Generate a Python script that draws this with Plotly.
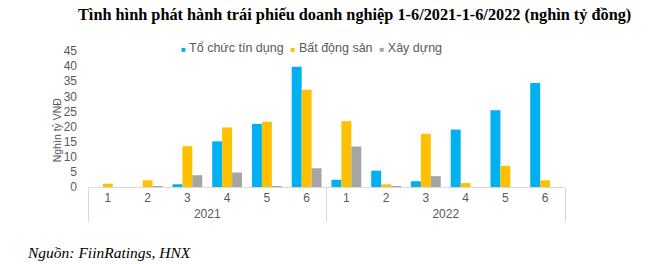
import plotly.graph_objects as go

years = ["2021"] * 6 + ["2022"] * 6
months = ["1", "2", "3", "4", "5", "6"] * 2
series_names = ["Tổ chức tín dụng", "Bất động sản", "Xây dựng"]
to_chuc_tin_dung = [0, 0, 0.9, 15.1, 20.9, 39.8, 2.4, 5.4, 1.9, 19.0, 25.4, 34.4]
bat_dong_san = [1.1, 2.2, 13.5, 19.7, 21.6, 32.2, 21.8, 0.9, 17.6, 1.3, 7.0, 2.2]
xay_dung = [0, 0.3, 3.9, 4.8, 0.3, 6.2, 13.4, 0.3, 3.6, 0, 0, 0]
y_ticks = [0, 5, 10, 15, 20, 25, 30, 35, 40, 45]
colors = ["#00B0F0", "#FFC000", "#A5A5A5"]

fig = go.Figure()
for name, vals, c in zip(series_names, [to_chuc_tin_dung, bat_dong_san, xay_dung], colors):
    fig.add_trace(go.Bar(x=[years, months], y=vals, name=name, marker_color=c,
                         marker_line_width=0, showlegend=False))

fig.update_layout(
    width=650, height=264,
    margin=dict(l=88, r=85, t=51, b=77),
    paper_bgcolor="white", plot_bgcolor="white",
    barmode="group", bargap=0.25, bargroupgap=0,
    font=dict(family="Liberation Sans, Arial", size=12, color="#595959"),
)
fig.update_yaxes(range=[0, 45], tickvals=y_ticks, showgrid=False, zeroline=False,
                 showline=False, ticks="", tickfont=dict(size=12, color="#595959"),
                 ticklabelstandoff=10)
fig.update_xaxes(showline=True, linecolor="#D9D9D9", linewidth=1, ticks="",
                 showdividers=True, dividercolor="#D9D9D9",
                 dividerwidth=1, tickfont=dict(size=12, color="#595959"),
                 showgrid=False)

# Title
fig.add_annotation(text="<b>Tình hình phát hành trái phiếu doanh nghiệp 1-6/2021-1-6/2022 (nghìn tỷ đồng)</b>",
                   xref="paper", yref="paper", x=(354 - 88) / 477, y=1 + (51 - 14) / 136,
                   showarrow=False, xanchor="center", yanchor="middle",
                   font=dict(family="Liberation Serif, Times New Roman", size=16.3, color="black"))

# Legend as annotation
legend_text = "&nbsp;&nbsp;".join(
    f"<span style='color:{c};font-size:8px'>■</span> {n}" for n, c in zip(series_names, colors))
fig.add_annotation(text=legend_text, xref="paper", yref="paper",
                   x=(179 - 88) / 477, y=1 + (51 - 48) / 136, showarrow=False,
                   xanchor="left", yanchor="middle",
                   font=dict(family="Liberation Sans, Arial", size=12.5, color="#595959"))

# Y axis title
fig.add_annotation(text="Nghìn tỷ VNĐ", xref="paper", yref="paper",
                   x=(57 - 88) / 477, y=(186.7 - 130) / 136, textangle=-90,
                   showarrow=False, xanchor="center", yanchor="middle",
                   font=dict(family="Liberation Sans, Arial", size=10.5, color="#595959"))

# Source
fig.add_annotation(text="<i>Nguồn: FiinRatings, HNX</i>", xref="paper", yref="paper",
                   x=(25 - 88) / 477, y=-(252 - 186.7) / 136, showarrow=False,
                   xanchor="left", yanchor="middle",
                   font=dict(family="Liberation Serif, Times New Roman", size=15.5, color="black"))

fig.write_html("out.html")
